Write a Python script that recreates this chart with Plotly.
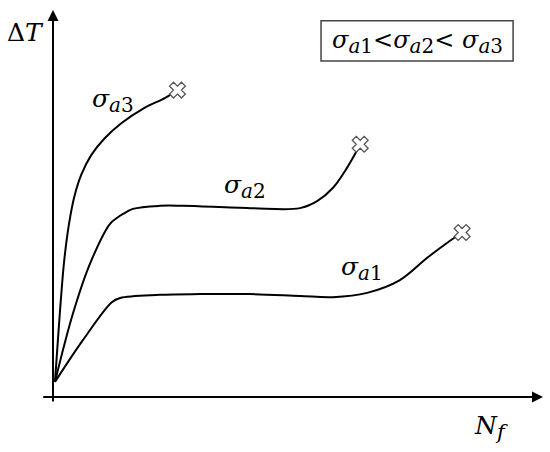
import plotly.graph_objects as go

# Schematic data (arbitrary units: N_f on x 0..100, ΔT on y 0..100)
x_a1 = [0.4, 6.1, 12.0, 13.7, 21.8, 30.0, 40.2, 50.4, 57.1, 64.1, 70.8, 76.3, 80.4, 83.5]
y_a1 = [3.9, 14.7, 24.5, 25.6, 26.4, 26.6, 26.6, 26.1, 25.8, 26.9, 30.2, 35.9, 39.8, 42.5]

x_a2 = [0.4, 4.1, 7.6, 11.6, 13.1, 14.3, 16.3, 21.8, 26.5, 40.2, 50.4, 53.9, 57.1, 60.0, 62.0, 62.7]
y_a2 = [3.9, 21.7, 34.6, 44.7, 46.3, 47.3, 48.6, 49.4, 49.4, 48.8, 48.8, 50.6, 54.0, 59.2, 63.6, 65.3]

x_a3 = [0.4, 1.0, 1.6, 2.3, 3.3, 4.4, 5.8, 7.8, 10.5, 14.0, 18.5, 22.9, 25.4]
y_a3 = [3.9, 14.7, 25.1, 35.4, 45.0, 52.0, 57.5, 62.5, 66.8, 70.8, 74.6, 77.3, 79.3]

SUB = '<sub><span style="font-size:20px"><i>a</i>{}</span></sub>'
series_labels = ["<i>σ</i>" + SUB.format(1), "<i>σ</i>" + SUB.format(2), "<i>σ</i>" + SUB.format(3)]
label_pos = [(63.1, 33.3), (39.2, 54.3), (12.3, 76.7)]

FONT = "DejaVu Serif"

fig = go.Figure()
for xs, ys in [(x_a1, y_a1), (x_a2, y_a2), (x_a3, y_a3)]:
    fig.add_trace(go.Scatter(x=xs, y=ys, mode="lines",
                             line=dict(color="black", width=2, shape="spline", smoothing=1.0),
                             hoverinfo="skip", showlegend=False))
# failure markers
fig.add_trace(go.Scatter(x=[x_a1[-1], x_a2[-1], x_a3[-1]], y=[y_a1[-1], y_a2[-1], y_a3[-1]],
                         mode="markers",
                         marker=dict(symbol="x", size=14, color="white", line=dict(color="#555", width=1.3)),
                         showlegend=False, hoverinfo="skip"))

# axes with arrows
fig.add_annotation(x=100, y=0, ax=-2.3, ay=0, xref="x", yref="y", axref="x", ayref="y",
                   showarrow=True, arrowhead=2, arrowsize=1.1, arrowwidth=2, arrowcolor="black", text="")
fig.add_annotation(x=0, y=100, ax=0, ay=-1.55, xref="x", yref="y", axref="x", ayref="y",
                   showarrow=True, arrowhead=2, arrowsize=1.1, arrowwidth=2, arrowcolor="black", text="")

# series labels
for txt, (lx, ly) in zip(series_labels, label_pos):
    fig.add_annotation(x=lx, y=ly, text=txt, showarrow=False,
                       font=dict(family=FONT, size=25, color="black"))

fig.add_annotation(x=-5.7, y=94.1, text="Δ<i>T</i>", showarrow=False,
                   font=dict(family=FONT, size=25, color="black"))
fig.add_annotation(x=89.4, y=-7.8,
                   text='<i>N</i><sub><span style="font-size:21px"><i>f</i></span></sub>',
                   showarrow=False, font=dict(family=FONT, size=25, color="black"))

# relation box
fig.add_shape(type="rect", x0=54.7, x1=93.9, y0=86.8, y1=97.2, xref="x", yref="y",
              line=dict(color="#444", width=1.5), fillcolor="rgba(0,0,0,0)")
fig.add_annotation(x=74.3, y=91.8,
                   text="<i>σ</i>" + SUB.format(1) + "&lt;<i>σ</i>" + SUB.format(2)
                        + "&lt; <i>σ</i>" + SUB.format(3),
                   showarrow=False, font=dict(family=FONT, size=24, color="black"))

fig.update_xaxes(range=[-10.816, 101.43], visible=False)
fig.update_yaxes(range=[-14.21, 102.58], visible=False)
fig.update_layout(width=550, height=452, margin=dict(l=0, r=0, t=0, b=0),
                  plot_bgcolor="white", paper_bgcolor="white", showlegend=False)

fig.write_html("out.html", config={"displayModeBar": False},
               post_script="document.body.style.margin='0px';")
